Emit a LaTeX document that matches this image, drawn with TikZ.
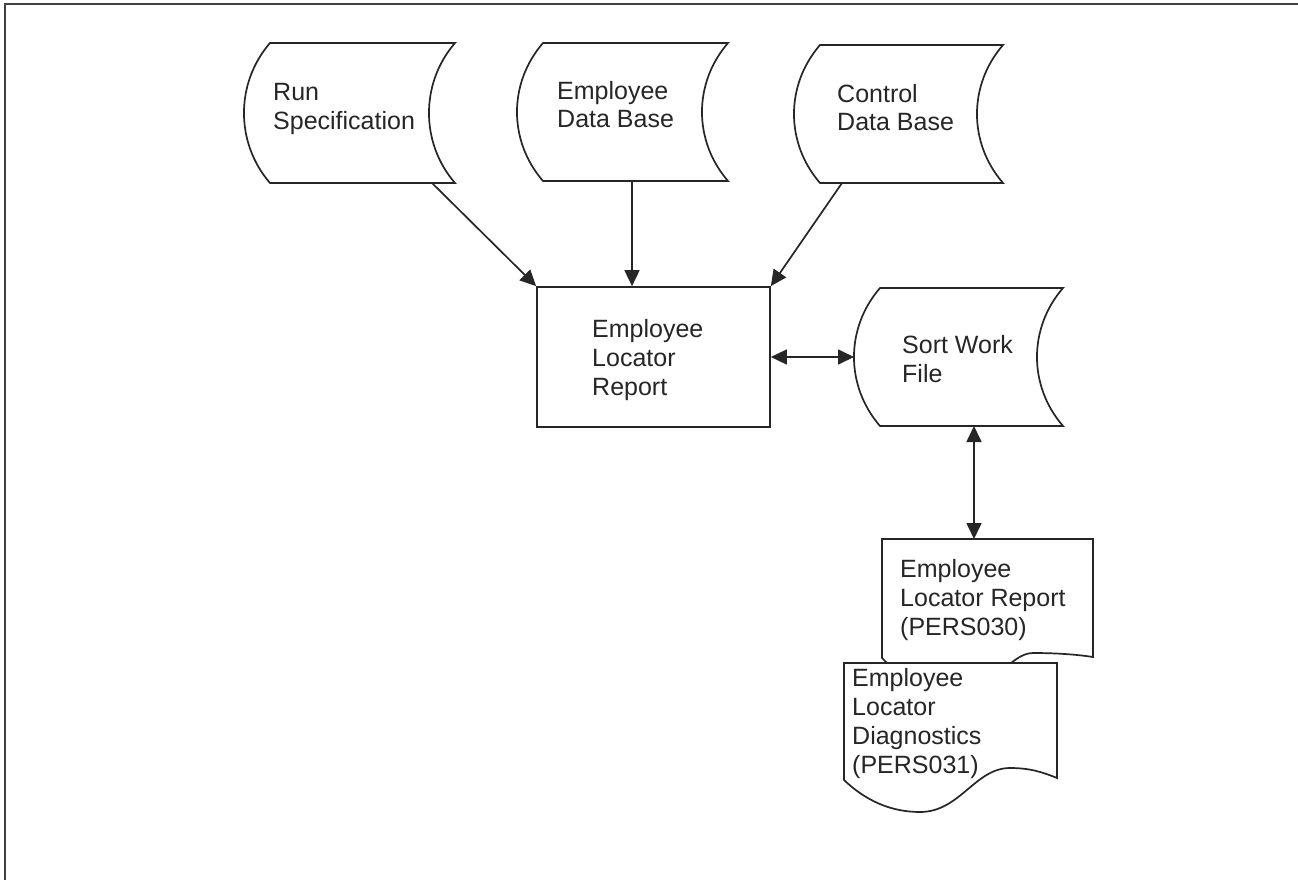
\documentclass[tikz,border=0pt]{standalone}
\usepackage{fontspec}
\setmainfont{Liberation Sans}
\usetikzlibrary{arrows.meta}
\tikzset{
  ln/.style={line width=1.7pt, draw=black!85},
  conn/.style={ln, -{Triangle[length=16pt,width=15pt]}},
  dconn/.style={ln, {Triangle[length=16pt,width=15pt]}-{Triangle[length=16pt,width=15pt]}},
  lbl/.style={anchor=base west, inner sep=0pt, align=left, font=\fontsize{25}{28.8}\selectfont, text=black!85},
  procbox/.style={ln, fill=white, inner sep=0pt, minimum width=233pt, minimum height=140pt},
  frameline/.style={line width=1.6pt, draw=black!75}
}
\newcommand\stdata[4]{%
  \draw[ln, fill=white] (#1,#3) -- (#2,#3)
    .. controls +(-34.7,40) and +(-34.7,-40) .. (#2,#4)
    -- (#1,#4)
    .. controls +(-34.7,-40) and +(-34.7,40) .. (#1,#3) -- cycle;}
\begin{document}
\begin{tikzpicture}[x=1pt,y=-1pt]
\useasboundingbox (0,0) rectangle (1298,880);
\draw[frameline] (5,880) -- (5,4) -- (1298,4);

% stored data shapes
\stdata{270}{455}{43}{183}
\stdata{543}{728}{43}{181}
\stdata{820}{1003}{45}{183}
\stdata{880}{1063}{288}{426}

% labels (anchor = baseline of the last line)
\node[lbl] (rs) at (273,129) {Run\\Specification};
\node[lbl] (ed) at (557,128) {Employee\\Data Base};
\node[lbl] (cd) at (837,131) {Control\\Data Base};
\node[lbl] (sw) at (902,382) {Sort Work\\File};

% process box
\node[procbox] (elr) at (653.5,357) {};
\node[lbl] (elrt) at (592,395) {Employee\\Locator\\Report};

% documents
\draw[ln, fill=white] (882,539) -- (1093,539) -- (1093,657)
  .. controls (1080,655) and (1060,653) .. (1033,653)
  .. controls (1010,653) and (995,690) .. (958,690)
  .. controls (935,690) and (908,685) .. (882,658) -- cycle;
\draw[ln, fill=white] (844,663) -- (1057,663) -- (1057,778)
  .. controls (1042,772) and (1030,768) .. (1010,768)
  .. controls (975,768) and (960,812) .. (920,812)
  .. controls (890,812) and (865,800) .. (844,780) -- cycle;
\node[lbl] (d1) at (900,635) {Employee\\Locator Report\\(PERS030)};
\node[lbl] (d2) at (852,773) {Employee\\Locator\\Diagnostics\\(PERS031)};

% connection points
\coordinate (rs-out) at (432,183);
\coordinate (ed-out) at (632,181);
\coordinate (cd-out) at (842,183);
\coordinate (sw-w) at (854,357);
\coordinate (sw-s) at (974,426);
\coordinate (d1-n) at (974,539);

\draw[conn] (rs-out) -- (elr.north west);
\draw[conn] (ed-out) -- (ed-out |- elr.north);
\draw[conn] (cd-out) -- (elr.north east);
\draw[dconn] (elr.east) -- (sw-w);
\draw[dconn] (sw-s) -- (d1-n);
\end{tikzpicture}
\end{document}
